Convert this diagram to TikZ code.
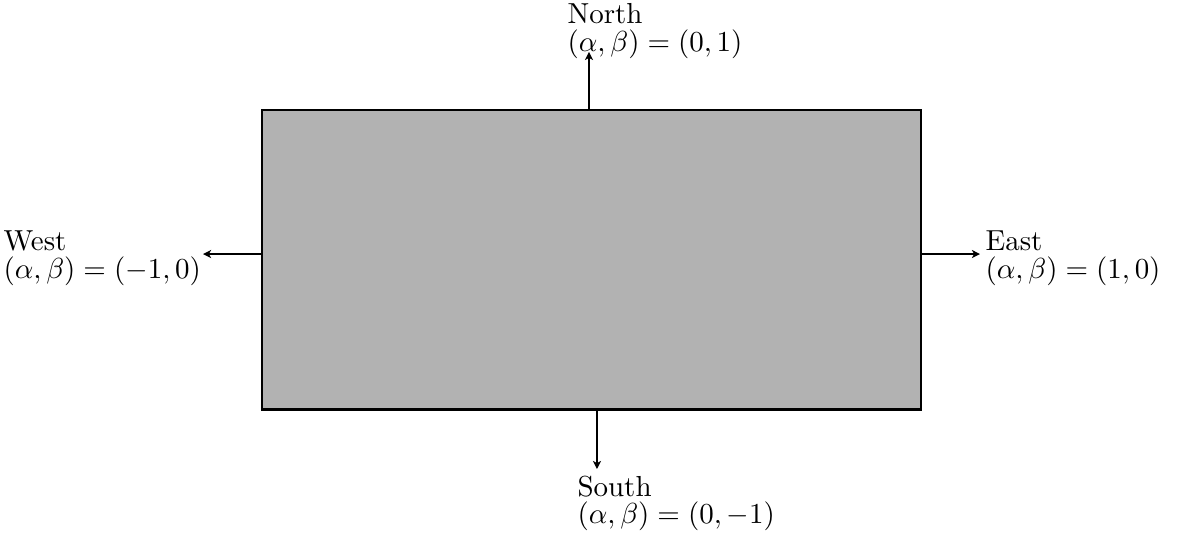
\documentclass[tikz,border=0pt]{standalone}
\usepackage{amsmath,amssymb}
\usetikzlibrary{positioning,arrows.meta}

\begin{document}
\begin{tikzpicture}[
  region/.style={draw,line width=1pt,fill=black!30,minimum width=7.998cm,minimum height=3.629cm,inner sep=0pt},
  lbl/.style={align=left,inner sep=0pt,anchor=north west},
  flux/.style={->,line width=0.7pt},
  >={Stealth[length=2.8pt,width=2.8pt,inset=0.8pt]}]
\useasboundingbox (0,0) rectangle (14.284,6.493);
\node[region] (rect) at (7.178,3.343) {};
\coordinate (ntip) at (7.148,5.862);
\coordinate (wtip) at (2.464,3.410);
\coordinate (etip) at (11.893,3.410);
\coordinate (stip) at (7.245,0.801);
\node[lbl] (nlbl) at (6.881,6.456) {North\\[-2.4pt]$(\alpha,\beta)=(0,1)$};
\node[lbl] (wlbl) at (0.036,3.701) {West\\[-2.4pt]$(\alpha,\beta)=(-1,0)$};
\node[lbl] (elbl) at (11.954,3.701) {East\\[-2.4pt]$(\alpha,\beta)=(1,0)$};
\node[lbl] (slbl) at (7.002,0.728) {South\\[-2.4pt]$(\alpha,\beta)=(0,-1)$};
\draw[flux] (ntip |- rect.north) -- (ntip);
\draw[flux] (rect.west |- wtip) -- (wtip);
\draw[flux] (rect.east |- etip) -- (etip);
\draw[flux] (stip |- rect.south) -- (stip);
\end{tikzpicture}
\end{document}
